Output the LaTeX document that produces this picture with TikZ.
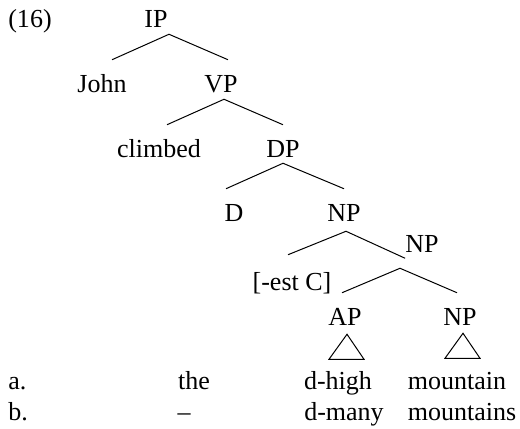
\documentclass[tikz,border=0pt]{standalone}
\usepackage{fontspec}
\setmainfont{Liberation Serif}
\newfontfamily\treefont{Liberation Serif}
\usetikzlibrary{positioning}
\tikzset{
	cat/.style={ % labels of the tree
		anchor=base,
		inner sep=0pt,
		text height=24pt,
		text depth=4.5pt,
	},
	word/.style={ % words on the two lines below
		anchor=base,
		inner sep=0pt,
	},
	branch/.style={
		line width=0.75pt,
	},
}

\begin{document}
\begin{tikzpicture}[x=0.75pt, y=-0.75pt, font=\treefont\fontsize{19.5}{23}\selectfont]
	\useasboundingbox (0,0) rectangle (520,428);
	\node [word] (ex) at (30,28) {(16)};
	\node [cat] (IP) at (156,28) {IP};
	\node [cat] (John) at (102,92) {John};
	\node [cat] (VP) at (221,92) {VP};
	\node [cat] (climbed) at (159,157) {climbed};
	\node [cat] (DP) at (283,157) {DP};
	\node [cat] (D) at (234,221) {D};
	\node [cat] (NP) at (344,221) {NP};
	\node [cat] (est) at (292,290) {[-est C]};
	\node [cat] (NP2) at (422,252) {NP};
	\node [cat] (AP) at (345,325) {AP};
	\node [cat] (NP3) at (460,325) {NP};
	% branches
	\draw [branch] (John.north) ++(10,0) -- ([shift={(13,0)}]IP.south) -- ([shift={(7,0)}]VP.north);
	\draw [branch] ([shift={(8,0)}]climbed.north) -- ([shift={(3,1)}]VP.south) -- (DP.north);
	\draw [branch] ([shift={(-8,0)}]D.north) -- (DP.south) -- (NP.north);
	\draw [branch] ([shift={(-4,-3)}]est.north) -- ([shift={(2,4)}]NP.south) -- (NP2.south west);
	\draw [branch] ([shift={(-3,0)}]AP.north) -- ([shift={(-22,10)}]NP2.south) -- ([shift={(-3,0)}]NP3.north);
	% triangles
	\draw [branch] ([shift={(2,3)}]AP.south) -- ++(-18,25) -- ++(35,0) -- cycle;
	\draw [branch] ([shift={(3,2)}]NP3.south) -- ++(-18,25) -- ++(35,0) -- cycle;
	% a. and b.
	\node [word, anchor=base west] (a) at (8,389) {a.};
	\node [word] (the) at (194,389) {the};
	\node [word] (dhigh) at (338,389) {d-high};
	\node [word] (mountain) at (457,389) {mountain};
	\node [word, anchor=base west] (b) at (8,420) {b.};
	\node [word] (dash) at (184,420) {\textendash};
	\node [word] (dmany) at (344,420) {d-many};
	\node [word] (mountains) at (462,420) {mountains};
\end{tikzpicture}
\end{document}
